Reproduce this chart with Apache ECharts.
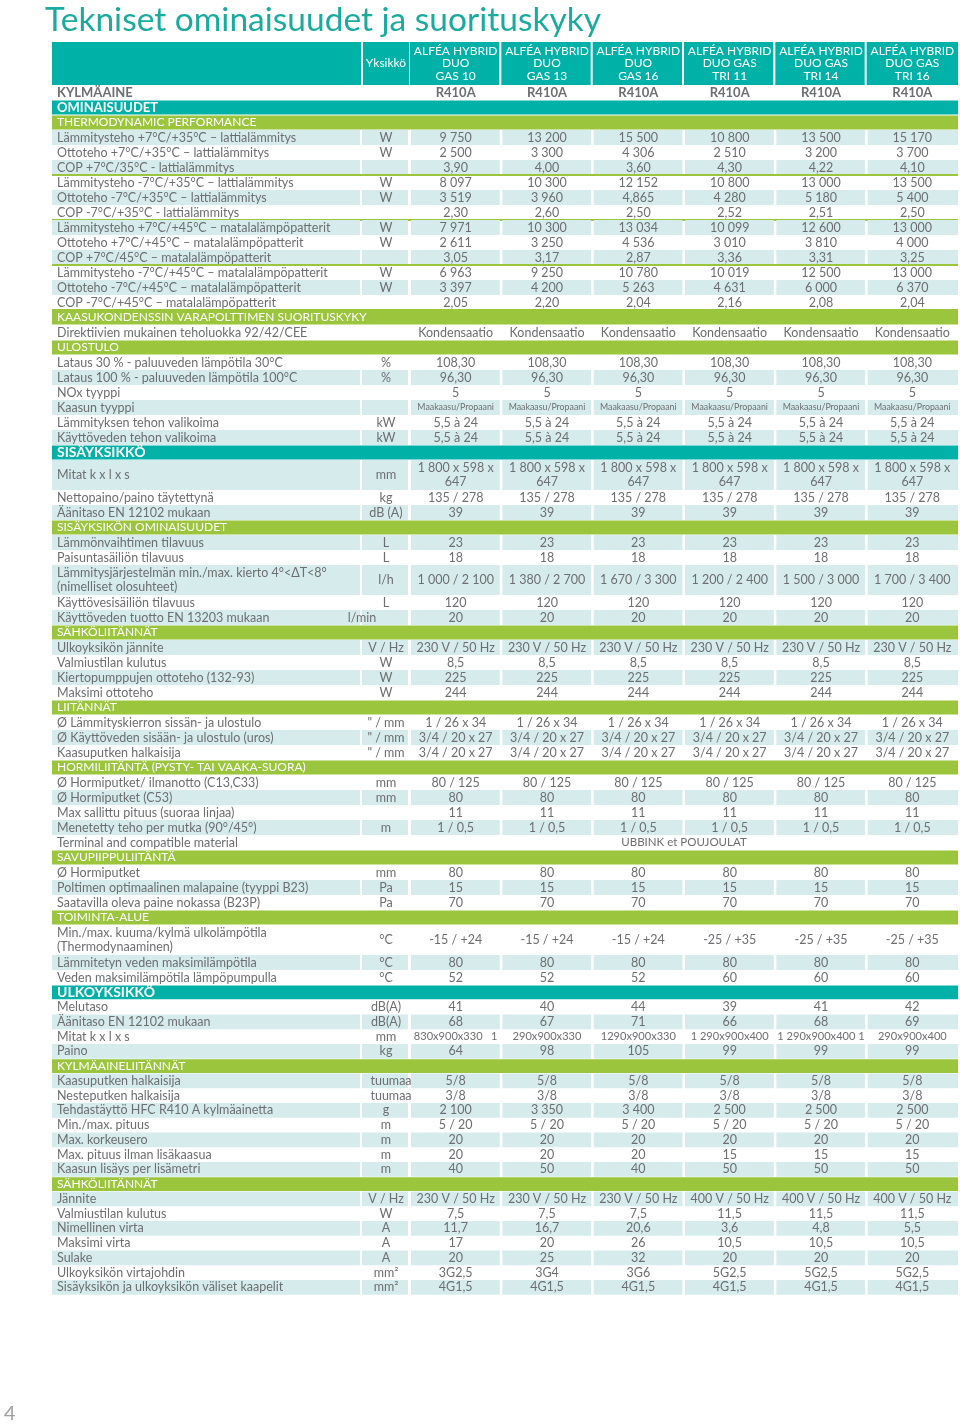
<!DOCTYPE html>
<html>
<head>
<meta charset="utf-8">
<title>Tekniset ominaisuudet ja suorituskyky</title>
<script src="https://cdn.jsdelivr.net/npm/echarts@6/dist/echarts.min.js"></script>
<style>
  html, body { margin: 0; padding: 0; background: #ffffff; }
  #chart { width: 960px; height: 1428px; }
</style>
</head>
<body>
<div id="chart"></div>
<script>
// ---------- data ----------
const models = [
  'ALFÉA HYBRID\nDUO\nGAS 10', 'ALFÉA HYBRID\nDUO\nGAS 13', 'ALFÉA HYBRID\nDUO\nGAS 16',
  'ALFÉA HYBRID\nDUO GAS\nTRI 11', 'ALFÉA HYBRID\nDUO GAS\nTRI 14', 'ALFÉA HYBRID\nDUO GAS\nTRI 16'
];
const refrigerant = ['R410A', 'R410A', 'R410A', 'R410A', 'R410A', 'R410A'];

const thermodynamic = [
  ['Lämmitysteho +7°C/+35°C – lattialämmitys', 'W', '9 750', '13 200', '15 500', '10 800', '13 500', '15 170'],
  ['Ottoteho +7°C/+35°C – lattialämmitys', 'W', '2 500', '3 300', '4 306', '2 510', '3 200', '3 700'],
  ['COP +7°C/35°C - lattialämmitys', '', '3,90', '4,00', '3,60', '4,30', '4,22', '4,10'],
  ['Lämmitysteho -7°C/+35°C – lattialämmitys', 'W', '8 097', '10 300', '12 152', '10 800', '13 000', '13 500'],
  ['Ottoteho -7°C/+35°C – lattialämmitys', 'W', '3 519', '3 960', '4,865', '4 280', '5 180', '5 400'],
  ['COP -7°C/+35°C - lattialämmitys', '', '2,30', '2,60', '2,50', '2,52', '2,51', '2,50'],
  ['Lämmitysteho +7°C/+45°C – matalalämpöpatterit', 'W', '7 971', '10 300', '13 034', '10 099', '12 600', '13 000'],
  ['Ottoteho +7°C/+45°C – matalalämpöpatterit', 'W', '2 611', '3 250', '4 536', '3 010', '3 810', '4 000'],
  ['COP +7°C/45°C – matalalämpöpatterit', '', '3,05', '3,17', '2,87', '3,36', '3,31', '3,25'],
  ['Lämmitysteho -7°C/+45°C – matalalämpöpatterit', 'W', '6 963', '9 250', '10 780', '10 019', '12 500', '13 000'],
  ['Ottoteho -7°C/+45°C – matalalämpöpatterit', 'W', '3 397', '4 200', '5 263', '4 631', '6 000', '6 370'],
  ['COP -7°C/+45°C – matalalämpöpatterit', '', '2,05', '2,20', '2,04', '2,16', '2,08', '2,04']
];
const gasBoiler = [
  ['Direktiivien mukainen teholuokka 92/42/CEE', '', 'Kondensaatio', 'Kondensaatio', 'Kondensaatio', 'Kondensaatio', 'Kondensaatio', 'Kondensaatio']
];
const output = [
  ['Lataus 30 % - paluuveden lämpötila 30°C', '%', '108,30', '108,30', '108,30', '108,30', '108,30', '108,30'],
  ['Lataus 100 % - paluuveden lämpötila 100°C', '%', '96,30', '96,30', '96,30', '96,30', '96,30', '96,30'],
  ['NOx tyyppi', '', '5', '5', '5', '5', '5', '5'],
  ['Kaasun tyyppi', '', 'Maakaasu/Propaani', 'Maakaasu/Propaani', 'Maakaasu/Propaani', 'Maakaasu/Propaani', 'Maakaasu/Propaani', 'Maakaasu/Propaani'],
  ['Lämmityksen tehon valikoima', 'kW', '5,5 à 24', '5,5 à 24', '5,5 à 24', '5,5 à 24', '5,5 à 24', '5,5 à 24'],
  ['Käyttöveden tehon valikoima', 'kW', '5,5 à 24', '5,5 à 24', '5,5 à 24', '5,5 à 24', '5,5 à 24', '5,5 à 24']
];
const indoor = [
  ['Mitat k x l x s', 'mm', '1 800 x 598 x\n647', '1 800 x 598 x\n647', '1 800 x 598 x\n647', '1 800 x 598 x\n647', '1 800 x 598 x\n647', '1 800 x 598 x\n647'],
  ['Nettopaino/paino täytettynä', 'kg', '135 / 278', '135 / 278', '135 / 278', '135 / 278', '135 / 278', '135 / 278'],
  ['Äänitaso EN 12102 mukaan', 'dB (A)', '39', '39', '39', '39', '39', '39']
];
const indoorProps = [
  ['Lämmönvaihtimen tilavuus', 'L', '23', '23', '23', '23', '23', '23'],
  ['Paisuntasäiliön tilavuus', 'L', '18', '18', '18', '18', '18', '18'],
  ['Lämmitysjärjestelmän min./max. kierto 4°<ΔT<8°\n(nimelliset olosuhteet)', 'l/h', '1 000 / 2 100', '1 380 / 2 700', '1 670 / 3 300', '1 200 / 2 400', '1 500 / 3 000', '1 700 / 3 400'],
  ['Käyttövesisäiliön tilavuus', 'L', '120', '120', '120', '120', '120', '120'],
  ['Käyttöveden tuotto EN 13203 mukaan', 'l/min', '20', '20', '20', '20', '20', '20']
];
const electrical = [
  ['Ulkoyksikön jännite', 'V / Hz', '230 V / 50 Hz', '230 V / 50 Hz', '230 V / 50 Hz', '230 V / 50 Hz', '230 V / 50 Hz', '230 V / 50 Hz'],
  ['Valmiustilan kulutus', 'W', '8,5', '8,5', '8,5', '8,5', '8,5', '8,5'],
  ['Kiertopumppujen ottoteho (132-93)', 'W', '225', '225', '225', '225', '225', '225'],
  ['Maksimi ottoteho', 'W', '244', '244', '244', '244', '244', '244']
];
const connections = [
  ['Ø Lämmityskierron sissän- ja ulostulo', '" / mm', '1 / 26 x 34', '1 / 26 x 34', '1 / 26 x 34', '1 / 26 x 34', '1 / 26 x 34', '1 / 26 x 34'],
  ['Ø Käyttöveden sisään- ja ulostulo (uros)', '" / mm', '3/4 / 20 x 27', '3/4 / 20 x 27', '3/4 / 20 x 27', '3/4 / 20 x 27', '3/4 / 20 x 27', '3/4 / 20 x 27'],
  ['Kaasuputken halkaisija', '" / mm', '3/4 / 20 x 27', '3/4 / 20 x 27', '3/4 / 20 x 27', '3/4 / 20 x 27', '3/4 / 20 x 27', '3/4 / 20 x 27']
];
const flue = [
  ['Ø Hormiputket/ ilmanotto (C13,C33)', 'mm', '80 / 125', '80 / 125', '80 / 125', '80 / 125', '80 / 125', '80 / 125'],
  ['Ø Hormiputket (C53)', 'mm', '80', '80', '80', '80', '80', '80'],
  ['Max sallittu pituus (suoraa linjaa)', '', '11', '11', '11', '11', '11', '11'],
  ['Menetetty teho per mutka (90°/45°)', 'm', '1 / 0,5', '1 / 0,5', '1 / 0,5', '1 / 0,5', '1 / 0,5', '1 / 0,5'],
  ['Terminal and compatible material', '', 'UBBINK et POUJOULAT']
];
const chimney = [
  ['Ø Hormiputket', 'mm', '80', '80', '80', '80', '80', '80'],
  ['Poltimen optimaalinen malapaine (tyyppi B23)', 'Pa', '15', '15', '15', '15', '15', '15'],
  ['Saatavilla oleva paine nokassa (B23P)', 'Pa', '70', '70', '70', '70', '70', '70']
];
const operatingRange = [
  ['Min./max. kuuma/kylmä ulkolämpötila\n(Thermodynaaminen)', '°C', '-15 / +24', '-15 / +24', '-15 / +24', '-25 / +35', '-25 / +35', '-25 / +35'],
  ['Lämmitetyn veden maksimilämpötila', '°C', '80', '80', '80', '80', '80', '80'],
  ['Veden maksimilämpötila lämpöpumpulla', '°C', '52', '52', '52', '60', '60', '60']
];
const outdoor = [
  ['Melutaso', 'dB(A)', '41', '40', '44', '39', '41', '42'],
  ['Äänitaso EN 12102 mukaan', 'dB(A)', '68', '67', '71', '66', '68', '69'],
  ['Mitat k x l x s', 'mm', '830x900x330   1', '290x900x330', '1290x900x330', '1 290x900x400', '1 290x900x400 1', '290x900x400'],
  ['Paino', 'kg', '64', '98', '105', '99', '99', '99']
];
const refrigerantLines = [
  ['Kaasuputken halkaisija', 'tuumaa', '5/8', '5/8', '5/8', '5/8', '5/8', '5/8'],
  ['Nesteputken halkaisija', 'tuumaa', '3/8', '3/8', '3/8', '3/8', '3/8', '3/8'],
  ['Tehdastäyttö HFC R410 A kylmäainetta', 'g', '2 100', '3 350', '3 400', '2 500', '2 500', '2 500'],
  ['Min./max. pituus', 'm', '5 / 20', '5 / 20', '5 / 20', '5 / 20', '5 / 20', '5 / 20'],
  ['Max. korkeusero', 'm', '20', '20', '20', '20', '20', '20'],
  ['Max. pituus ilman lisäkaasua', 'm', '20', '20', '20', '15', '15', '15'],
  ['Kaasun lisäys per lisämetri', 'm', '40', '50', '40', '50', '50', '50']
];
const outdoorElectrical = [
  ['Jännite', 'V / Hz', '230 V / 50 Hz', '230 V / 50 Hz', '230 V / 50 Hz', '400 V / 50 Hz', '400 V / 50 Hz', '400 V / 50 Hz'],
  ['Valmiustilan kulutus', 'W', '7,5', '7,5', '7,5', '11,5', '11,5', '11,5'],
  ['Nimellinen virta', 'A', '11,7', '16,7', '20,6', '3,6', '4,8', '5,5'],
  ['Maksimi virta', 'A', '17', '20', '26', '10,5', '10,5', '10,5'],
  ['Sulake', 'A', '20', '25', '32', '20', '20', '20'],
  ['Ulkoyksikön virtajohdin', 'mm²', '3G2,5', '3G4', '3G6', '5G2,5', '5G2,5', '5G2,5'],
  ['Sisäyksikön ja ulkoyksikön väliset kaapelit', 'mm²', '4G1,5', '4G1,5', '4G1,5', '4G1,5', '4G1,5', '4G1,5']
];

// ---------- style / layout ----------
const TEAL = '#00b1a8';
const GREEN = '#9bc53d';
const SHADE = '#d6ecec';
const TEXT = '#6d6e71';
const TABLE_W = 906;      // x axis runs in px across the table
const LABEL_END = 308;
const UNIT_START = 310, UNIT_END = 356, UNIT_MID = 334;
const DATA_X0 = 358;
const COL_W = (TABLE_W - DATA_X0) / 6;
const HEAD_SPAN = 2.87;
const SMALL = { 'Maakaasu/Propaani': 8.8 };
const UNIT_SHIFT = { 'l/min': -24, 'tuumaa': 5 };

const measure = document.createElement('canvas').getContext('2d');
function fitSize(s, family, size, maxW) {
  let w = 0;
  measure.font = size + 'px ' + family;
  s.split('\n').forEach(line => { w = Math.max(w, measure.measureText(line).width); });
  return w > maxW ? size * maxW / w : size;
}

function rowsOf(list, stripe) {
  return list.map((r, i) => ({
    kind: 'row', label: r[0], unit: r[1], values: r.slice(2), shaded: stripe[i] === '1'
  }));
}

const rowsTop = [
  { kind: 'head' },
  { kind: 'bold', label: 'KYLMÄAINE', unit: '', values: refrigerant },
  { kind: 'h1', label: 'OMINAISUUDET', size: 13 },
  { kind: 'h2', label: 'THERMODYNAMIC PERFORMANCE' },
  ...rowsOf(thermodynamic, '101010101010'),
  { kind: 'h2', label: 'KAASUKONDENSSIN VARAPOLTTIMEN SUORITUSKYKY' },
  ...rowsOf(gasBoiler, '0'),
  { kind: 'h2', label: 'ULOSTULO' },
  ...rowsOf(output, '010101'),
  { kind: 'h1', label: 'SISÄYKSIKKÖ', size: 14 },
  ...rowsOf(indoor, '101'),
  { kind: 'h2', label: 'SISÄYKSIKÖN OMINAISUUDET' },
  ...rowsOf(indoorProps, '10101'),
  { kind: 'h2', label: 'SÄHKÖLIITÄNNÄT' },
  ...rowsOf(electrical, '1010'),
  { kind: 'h2', label: 'LIITÄNNÄT' },
  ...rowsOf(connections, '010'),
  { kind: 'h2', label: 'HORMILIITÄNTÄ (PYSTY- TAI VAAKA-SUORA)' },
  ...rowsOf(flue, '01010'),
  { kind: 'h2', label: 'SAVUPIIPPULIITÄNTÄ' },
  ...rowsOf(chimney, '010'),
  { kind: 'h2', label: 'TOIMINTA-ALUE' },
  ...rowsOf(operatingRange, '010')
];
const rowsBottom = [
  { kind: 'h1', label: 'ULKOYKSIKKÖ', size: 14 },
  ...rowsOf(outdoor, '0101'),
  { kind: 'h2', label: 'KYLMÄAINELIITÄNNÄT' },
  ...rowsOf(refrigerantLines, '1010101'),
  { kind: 'h2', label: 'SÄHKÖLIITÄNNÄT' },
  ...rowsOf(outdoorElectrical, '1010101')
];

function spanOf(r) {
  if (r.kind === 'head') return HEAD_SPAN;
  const multi = (r.label && r.label.includes('\n')) || (r.values || []).some(v => v.includes('\n'));
  return multi ? 2 : 1;
}
function toData(rows, start) {
  let y = start;
  return rows.map(r => {
    const y0 = y;
    y += spanOf(r);
    return [0, y0, y];
  });
}

const FONT_TOP = { family: 'Lato', size: 12.5, line: 14 };
const FONT_BOTTOM = { family: 'Lato', size: 12.5, line: 14 };

function makeRender(rows, font) {
  return function (params, api) {
    const row = rows[params.dataIndex];
    const y0 = api.value(1), y1 = api.value(2);
    const top = api.coord([0, y0])[1];
    const bottom = api.coord([0, y1])[1];
    const mid = (top + bottom) / 2;
    const X = v => api.coord([v, y0])[0];
    const colMid = i => X(DATA_X0 + (i + 0.5) * COL_W);
    const out = [];
    const box = (a, b, fill, t, bt) => {
      const yt = t === undefined ? top : t;
      const yb = bt === undefined ? bottom : bt;
      out.push({ type: 'rect', shape: { x: X(a), y: yt, width: X(b) - X(a), height: yb - yt }, style: { fill: fill } });
    };
    const txt = (s, x, align, st) => out.push({
      type: 'text', x: x, y: mid,
      style: Object.assign({
        text: s, fill: TEXT, fontFamily: font.family, fontSize: font.size,
        align: align, verticalAlign: 'middle', lineHeight: font.line
      }, st || {})
    });
    // one font size per row, so long cells shrink together
    const rowSize = vals => Math.min.apply(null, vals.map(v => SMALL[v] || fitSize(v, font.family, font.size, COL_W - 4)));

    if (row.kind === 'head') {
      box(0, LABEL_END + 1, TEAL);
      box(UNIT_START + 1, DATA_X0 - 1, TEAL);
      for (let i = 0; i < 6; i++) {
        box(DATA_X0 + i * COL_W, DATA_X0 + (i + 1) * COL_W - (i < 5 ? 2 : 0), TEAL);
        txt(models[i], colMid(i), 'center', { fill: '#ffffff', fontSize: 12, lineHeight: 12.5 });
      }
      txt('Yksikkö', X(UNIT_MID), 'center', { fill: '#ffffff', fontSize: 12 });
    } else if (row.kind === 'bold') {
      txt(row.label, X(5), 'left', { fontWeight: 'bold', fontSize: 13 });
      row.values.forEach((v, i) => txt(v, colMid(i), 'center', { fontWeight: 'bold', fontSize: 13 }));
    } else if (row.kind === 'h1') {
      box(0, TABLE_W, TEAL, top + 0.5, bottom - 0.5);
      txt(row.label, X(5), 'left', { fill: '#ffffff', fontWeight: 'bold', fontSize: row.size });
    } else if (row.kind === 'h2') {
      box(0, TABLE_W, GREEN, top + 0.5, bottom - 0.5);
      txt(row.label, X(5), 'left', { fill: '#ffffff', fontSize: 12 });
    } else {
      if (row.shaded) {
        box(0, LABEL_END, SHADE);
        box(UNIT_START, UNIT_END, SHADE);
        for (let i = 0; i < 6; i++) {
          box(DATA_X0 + i * COL_W + 1, DATA_X0 + (i + 1) * COL_W - (i < 5 ? 1.5 : 0), SHADE);
        }
      }
      txt(row.label, X(5), 'left');
      if (row.unit) txt(row.unit, X(UNIT_MID + (UNIT_SHIFT[row.unit] || 0)), 'center');
      if (row.values.length === 1) {
        txt(row.values[0], X(DATA_X0 + 3 * COL_W), 'center', { fontSize: font.size - 1 });
      } else {
        const size = rowSize(row.values);
        row.values.forEach((v, i) => txt(v, colMid(i), 'center', { fontSize: size }));
      }
      if (/^COP/.test(row.label)) {
        out.push({
          type: 'line',
          shape: { x1: X(0), y1: bottom, x2: X(TABLE_W), y2: bottom },
          style: { stroke: GREEN, lineWidth: 2 }
        });
      }
    }
    return { type: 'group', children: out };
  };
}

const dataTop = toData(rowsTop, -HEAD_SPAN);
const dataBottom = toData(rowsBottom, 0);

const chart = echarts.init(document.getElementById('chart'));
const option = {
  animation: false,
  backgroundColor: '#ffffff',
  title: {
    text: 'Tekniset ominaisuudet ja suorituskyky',
    left: 40,
    top: -2,
    textStyle: { fontFamily: 'Lato', fontSize: 33.5, fontWeight: 'normal', color: '#1aab9f' }
  },
  graphic: [
    { type: 'text', left: 4, top: 1404, style: { text: '4', fontFamily: 'Lato', fontSize: 20, fill: '#a0a0a0' } }
  ],
  grid: [
    { left: 52, top: 42, width: TABLE_W, height: (60 + HEAD_SPAN) * 15 },
    { left: 52, top: 42 + (60 + HEAD_SPAN) * 15, width: TABLE_W, height: 21 * 14.75 }
  ],
  xAxis: [
    { type: 'value', gridIndex: 0, min: 0, max: TABLE_W, show: false },
    { type: 'value', gridIndex: 1, min: 0, max: TABLE_W, show: false }
  ],
  yAxis: [
    { type: 'value', gridIndex: 0, inverse: true, min: -HEAD_SPAN, max: 60, show: false },
    { type: 'value', gridIndex: 1, inverse: true, min: 0, max: 21, show: false }
  ],
  series: [
    {
      type: 'custom', xAxisIndex: 0, yAxisIndex: 0, silent: true,
      renderItem: makeRender(rowsTop, FONT_TOP),
      encode: { x: 0, y: [1, 2] },
      data: dataTop
    },
    {
      type: 'custom', xAxisIndex: 1, yAxisIndex: 1, silent: true,
      renderItem: makeRender(rowsBottom, FONT_BOTTOM),
      encode: { x: 0, y: [1, 2] },
      data: dataBottom
    }
  ]
};
chart.setOption(option);
</script>
</body>
</html>
